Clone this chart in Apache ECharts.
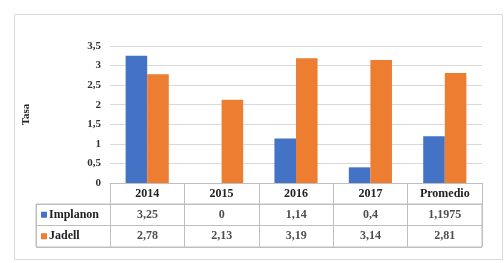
<!DOCTYPE html>
<html>
<head>
<meta charset="utf-8">
<script src="https://cdn.jsdelivr.net/npm/echarts@6/dist/echarts.min.js"></script>
<style>
  html, body { margin: 0; padding: 0; background: #fff; }
  #chart { width: 504px; height: 263px; }
</style>
</head>
<body>
<div id="chart"></div>
<script>
// datos
const categories = ['2014', '2015', '2016', '2017', 'Promedio'];
const seriesNames = ['Implanon', 'Jadell'];
const implanon = [3.25, 0, 1.14, 0.4, 1.1975];
const jadell = [2.78, 2.13, 3.19, 3.14, 2.81];
const colors = ['#4472C4', '#ED7D31'];

const FONT = 'Liberation Serif';
const lineColor = '#bfbfbf';

const fmt = v => String(v).replace('.', ',');

// columnas de la tabla: primera columna para los nombres
const tableCols = [' '].concat(categories);

const tableCells = [];
categories.forEach((c, i) => {
  tableCells.push([c, seriesNames[0], fmt(implanon[i])]);
  tableCells.push([c, seriesNames[1], fmt(jadell[i])]);
});

const myChart = echarts.init(document.getElementById('chart'));

const option = {
  animation: false,
  backgroundColor: '#fff',
  graphic: [{
    type: 'rect',
    left: 12, top: 12,
    shape: { width: 488, height: 245 },
    style: { fill: 'none', stroke: '#d9d9d9', lineWidth: 1 },
    silent: true
  }],
  grid: [
    { left: 110, right: 22, top: 46, bottom: 80 },
    { left: 36, right: 22, top: 204, height: 43, show: true, borderColor: lineColor, borderWidth: 1, backgroundColor: 'transparent' }
  ],
  xAxis: [
    {
      gridIndex: 0,
      type: 'category',
      data: categories,
      axisLine: { lineStyle: { color: lineColor } },
      axisTick: { show: true, length: 21, interval: 0, lineStyle: { color: lineColor } },
      axisLabel: { interval: 0, margin: 5, color: '#222', fontFamily: FONT, fontWeight: 'bold', fontSize: 12 }
    },
    {
      gridIndex: 1,
      type: 'category',
      data: tableCols,
      axisLine: { show: false },
      axisTick: { show: false },
      axisLabel: { show: false },
      splitLine: { show: true, interval: 0, lineStyle: { color: lineColor } }
    }
  ],
  yAxis: [
    {
      gridIndex: 0,
      type: 'value',
      name: 'Tasa',
      nameLocation: 'middle',
      nameGap: 78,
      nameTextStyle: { fontFamily: FONT, fontWeight: 'bold', fontSize: 11, color: '#222' },
      min: 0, max: 3.5, interval: 0.5,
      axisLine: { show: false },
      axisTick: { show: false },
      axisLabel: { margin: 9, color: '#333', fontFamily: FONT, fontWeight: 'bold', fontSize: 11, formatter: v => fmt(v) },
      splitLine: { lineStyle: { color: '#d9d9d9' } }
    },
    {
      gridIndex: 1,
      type: 'category',
      inverse: true,
      data: seriesNames,
      axisLine: { show: false },
      axisTick: { show: false },
      splitLine: { show: true, interval: 0, lineStyle: { color: lineColor } },
      axisLabel: {
        inside: true,
        margin: 5,
        interval: 0,
        formatter: (v, i) => '{m' + i + '|}{t|' + v + '}',
        rich: {
          m0: { backgroundColor: colors[0], width: 6, height: 6 },
          m1: { backgroundColor: colors[1], width: 6, height: 6 },
          t: { fontFamily: FONT, fontWeight: 'bold', fontSize: 12, color: '#222', padding: [0, 0, 0, 2] }
        }
      }
    }
  ],
  series: [
    {
      name: seriesNames[0],
      type: 'bar',
      data: implanon,
      barGap: '0%',
      barCategoryGap: '42%',
      itemStyle: { color: colors[0] }
    },
    {
      name: seriesNames[1],
      type: 'bar',
      data: jadell,
      itemStyle: { color: colors[1] }
    },
    {
      type: 'scatter',
      xAxisIndex: 1,
      yAxisIndex: 1,
      data: tableCells,
      symbolSize: 1,
      itemStyle: { color: 'transparent' },
      silent: true,
      z: 10,
      label: {
        show: true,
        position: 'inside',
        formatter: p => p.data[2],
        fontFamily: FONT, fontWeight: 'bold', fontSize: 12, color: '#222'
      }
    }
  ]
};

option && myChart.setOption(option);
</script>
</body>
</html>
